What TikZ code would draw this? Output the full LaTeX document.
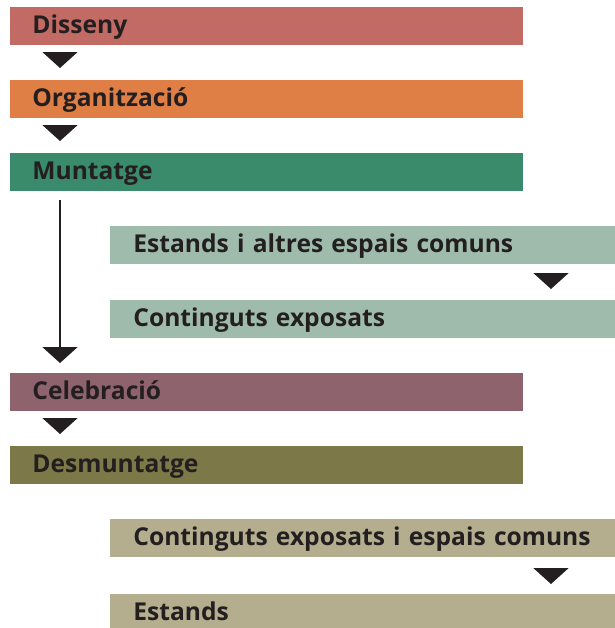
\documentclass[tikz,border=0pt]{standalone}
\usepackage{fontspec}
\setmainfont{Open Sans}
\usetikzlibrary{arrows.meta,calc}

\definecolor{ink}{HTML}{231F20}
\definecolor{cdisseny}{HTML}{C26A64}
\definecolor{corganitza}{HTML}{E07F45}
\definecolor{cmuntatge}{HTML}{3A8A6C}
\definecolor{cmuntsub}{HTML}{9FBBAB}
\definecolor{ccelebra}{HTML}{8F636E}
\definecolor{cdesmunta}{HTML}{7C7847}
\definecolor{cdesmsub}{HTML}{B4AE8F}

\tikzset{
  bar/.style={anchor=north west, minimum height=19pt, inner ysep=0pt,
    text height=9pt, text depth=2pt,
    align=left, text=ink, font=\bfseries\fontsize{12.3}{14}\selectfont},
  mainbar/.style={bar, inner xsep=11pt, text width=234.5pt, fill=#1},
  % sub bars run past the right edge and are clipped there
  subbar/.style={bar, inner xsep=11.5pt, text width=245pt, fill=#1},
  tri/.style={-{Triangle[width=17.5pt,length=8pt]}, ink, line width=1pt}
}

\begin{document}
\begin{tikzpicture}[x=0.5pt,y=-0.5pt]
      \clip (0,0) rectangle (615,628);

      \node[mainbar=cdisseny] (disseny) at (10,7) {Disseny};
      \node[mainbar=corganitza] (organitzacio) at (10,80) {Organització};
      \node[mainbar=cmuntatge] (muntatge) at (10,153) {Muntatge};
      \node[subbar=cmuntsub] (estands) at (110,226) {Estands i altres espais comuns};
      \node[subbar=cmuntsub] (continguts) at (110,300) {Continguts exposats};
      \node[mainbar=ccelebra] (celebracio) at (10,373) {Celebració};
      \node[mainbar=cdesmunta] (desmuntatge) at (10,446) {Desmuntatge};
      \node[subbar=cdesmsub] (contiespais) at (110,519) {Continguts exposats i espais comuns};
      \node[subbar=cdesmsub] (estandsfi) at (110,594) {Estands};

      % fletxes
      \draw[tri] ($(disseny.south west)+(50,7)$) -- ($(organitzacio.north west)+(50,-12)$);
      \draw[tri] ($(organitzacio.south west)+(50,7)$) -- ($(muntatge.north west)+(50,-12)$);
      \draw[tri] ($(muntatge.south west)+(50,8)$) -- ($(celebracio.north west)+(50,-10)$);
      \draw[tri] ($(estands.south west)+(441,9)$) -- ($(continguts.north west)+(441,-11)$);
      \draw[tri] ($(celebracio.south west)+(50,7)$) -- ($(desmuntatge.north west)+(50,-12)$);
      \draw[tri] ($(contiespais.south west)+(441,10)$) -- ($(estandsfi.north west)+(441,-10)$);
\end{tikzpicture}
\end{document}
